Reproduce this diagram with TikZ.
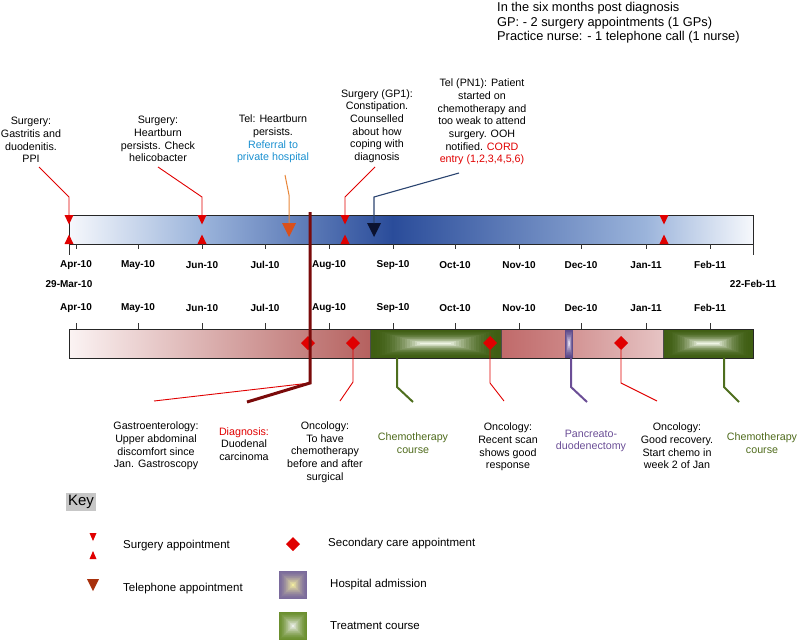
\documentclass[tikz,border=0pt]{standalone}
\usepackage{fontspec}
\setmainfont{Liberation Sans}
\definecolor{sred}{HTML}{E00000}
\definecolor{dred}{HTML}{7A0A0A}
\definecolor{oline}{HTML}{E8873A}
\definecolor{ofill}{HTML}{D9501A}
\definecolor{nline}{HTML}{2B4470}
\definecolor{nfill}{HTML}{0B1230}
\definecolor{olive}{HTML}{4F6B1C}
\definecolor{gline}{HTML}{4E6E1E}
\definecolor{purp}{HTML}{6B4E96}
\definecolor{bluetxt}{HTML}{1A90D0}
\definecolor{bl0}{HTML}{F6F8FC}
\definecolor{bl1}{HTML}{9BB4DB}
\definecolor{bl2}{HTML}{2A4C9A}
\definecolor{rd0}{HTML}{FBF3F3}
\definecolor{rd1}{HTML}{B5615F}
\definecolor{rd2}{HTML}{C06A6A}
\definecolor{rd3}{HTML}{CC8585}
\definecolor{rd4}{HTML}{D39494}
\definecolor{rd5}{HTML}{E6C4C4}
\definecolor{gedge}{HTML}{3F5E13}
\definecolor{gcen}{HTML}{EEF4E4}
\definecolor{pedge}{HTML}{5B4788}
\definecolor{pcen}{HTML}{E8E2F4}
\definecolor{kpedge}{HTML}{7A6A9C}
\definecolor{kpcen}{HTML}{F2ECA0}
\definecolor{kgedge}{HTML}{6B8F2E}
\definecolor{kgcen}{HTML}{ECEFEA}
\definecolor{tbrown}{HTML}{A8300C}
\newcommand{\pyrbox}[8]{%
  \foreach \k in {0,...,20}{%
    \pgfmathsetmacro{\dx}{\k/21*(#3-#1)/2*#7}%
    \pgfmathsetmacro{\dy}{\k/21*(#4-#2)/2}%
    \pgfmathsetmacro{\pc}{100*(\k/20)^#8}%
    \fill[#6!\pc!#5] (#1+\dx,#2+\dy) rectangle (#3-\dx,#4-\dy);
  }}
\newcommand{\sdiam}[3]{%
  \fill[sred] (#1-7,#2) -- (#1,#2-7) -- (#1+7,#2) -- (#1,#2+7) -- cycle;
  \coordinate (#3) at (#1,#2+7);}
\newcommand{\surgpair}[2]{%
  \fill[sred] (#1-4.5,215) -- (#1+4.5,215) -- (#1,224.5) -- cycle;
  \fill[sred] (#1-4.5,244) -- (#1+4.5,244) -- (#1,234.5) -- cycle;
  \coordinate (#2) at (#1,215);}
\begin{document}
\begin{tikzpicture}[x=1pt,y=-1pt,
  lbl/.style={align=center,font=\fontsize{10.7}{12.7}\selectfont,inner sep=0pt},
  mon/.style={font=\bfseries\fontsize{10}{12}\selectfont,inner sep=0pt},
  keytxt/.style={anchor=west,font=\fontsize{11.5}{13}\selectfont,inner sep=0pt},
  callred/.style={draw=sred,line width=0.9pt},
  tick/.style={draw=black!80,line width=0.8pt}]
\useasboundingbox (0,0) rectangle (800,643);

% ---------- top-right summary ----------
\node[anchor=north west,align=left,inner sep=0pt,font=\fontsize{12.8}{14.5}\selectfont] (summary) at (497,2.5)
  {In the six months post diagnosis\\GP: - 2 surgery appointments (1 GPs)\\Practice nurse: - 1 telephone call (1 nurse)};

% ---------- top labels ----------
\node[lbl] (t1) at (31,140) {Surgery:\\Gastritis and\\duodenitis.\\PPI};
\node[lbl] (t2) at (158,139) {Surgery:\\Heartburn\\persists. Check\\helicobacter};
\node[lbl] (t3) at (273,139) {Tel: Heartburn\\persists.\\\textcolor{bluetxt}{Referral to}\\\textcolor{bluetxt}{private hospital}};
\node[lbl] (t4) at (377,126) {Surgery (GP1):\\Constipation.\\Counselled\\about how\\coping with\\diagnosis};
\node[lbl] (t5) at (482,122) {Tel (PN1): Patient\\started on\\chemotherapy and\\too weak to attend\\surgery. OOH\\notified. \textcolor{sred}{CORD}\\\textcolor{sred}{entry (1,2,3,4,5,6)}};

% ---------- top bar ----------
\shade[left color=bl0,right color=bl1] (69,215) rectangle (202,244);
\shade[left color=bl1,right color=bl2] (201.5,215) rectangle (393,244);
\shade[left color=bl2,right color=bl1] (392.5,215) rectangle (646,244);
\shade[left color=bl1,right color=bl0] (645.5,215) rectangle (753,244);
\draw[black!85,line width=0.8pt] (69,215) rectangle (753,244);
\draw[tick] (69,244) -- (69,255);
\draw[tick] (753,244) -- (753,255);
\foreach \x/\m in {76/Apr-10,138/May-10,202/Jun-10,265/Jul-10,329/Aug-10,393/Sep-10,455/Oct-10,519/Nov-10,581/Dec-10,646/Jan-11,710/Feb-11}{
  \draw[tick] (\x,244) -- (\x,249);
  \node[mon] at (\x,265) {\m};
  \draw[tick] (\x,323) -- (\x,329);
  \node[mon] at (\x,308) {\m};
}
\node[mon] (startdate) at (69,284) {29-Mar-10};
\node[mon] (enddate) at (753,284) {22-Feb-11};

% surgery markers
\surgpair{69}{s1}
\surgpair{202}{s2}
\surgpair{345}{s3}
\surgpair{664}{s4}

% telephone markers
\fill[ofill] (282,223) -- (296,223) -- (289,237) -- cycle;
\coordinate (tel1) at (289,223);
\fill[nfill] (367,223) -- (381,223) -- (374,237) -- cycle;
\coordinate (tel2) at (374,223);

% top connectors
\coordinate (t1e) at (39,167);
\coordinate (t2e) at (158,167);
\coordinate (t3e) at (285,175);
\coordinate (t4e) at (375,167);
\coordinate (t5e) at (459,173);
\draw[callred] (t1e) -- (69,197) -- (s1);
\draw[callred] (t2e) -- (202,197) -- (s2);
\draw[callred] (t4e) -- (345,197) -- (s3);
\draw[draw=oline,line width=1pt] (t3e) -- (289,195) -- (tel1);
\draw[draw=nline,line width=1.1pt] (t5e) -- (374,197) -- (tel2);

% ---------- bottom bar ----------
\shade[left color=rd0,right color=rd1] (69,329) rectangle (370.5,358);
\shade[left color=rd2,right color=rd3] (500.5,329) rectangle (565.5,358);
\shade[left color=rd4,right color=rd5] (572.5,329) rectangle (663.5,358);
\pyrbox{370}{329}{501}{358}{gedge}{gcen}{0.8}{2.2}
\pyrbox{663}{329}{753}{358}{gedge}{gcen}{0.8}{2.2}
\pyrbox{565}{329}{573}{358}{pedge}{pcen}{1}{1.5}
\draw[black!70,line width=0.6pt] (370,329) rectangle (501,358);
\draw[black!70,line width=0.6pt] (663,329) rectangle (753,358);
\draw[black!85,line width=0.8pt] (69,329) rectangle (753,358);

% secondary care diamonds
\sdiam{308}{343}{d1}
\sdiam{353}{343}{d2}
\sdiam{490}{343}{d3}
\sdiam{621}{343}{d4}
\coordinate (c1) at (397,358);
\coordinate (h1) at (571,358);
\coordinate (c2) at (724,358);

% bottom labels
\node[lbl] (b1) at (156,446) {Gastroenterology:\\Upper abdominal\\discomfort since\\Jan. Gastroscopy};
\node[lbl] (b2) at (244,444) {\textcolor{sred}{Diagnosis:}\\Duodenal\\carcinoma};
\node[lbl] (b3) at (325,452) {Oncology:\\To have\\chemotherapy\\before and after\\surgical};
\node[lbl,text=olive] (b4) at (413,443) {Chemotherapy\\course};
\node[lbl] (b5) at (508,447) {Oncology:\\Recent scan\\shows good\\response};
\node[lbl,text=purp] (b6) at (591,441) {Pancreato-\\duodenectomy};
\node[lbl] (b7) at (677,446) {Oncology:\\Good recovery.\\Start chemo in\\week 2 of Jan};
\node[lbl,text=olive] (b8) at (762,443) {Chemotherapy\\course};

% bottom connectors
\coordinate (b1e) at (154,401);
\coordinate (b3e) at (340,401);
\coordinate (b4e) at (413,402);
\coordinate (b5e) at (504,401);
\coordinate (b6e) at (587,402);
\coordinate (b7e) at (657,401);
\coordinate (b8e) at (739,402);
\draw[callred] (d2) -- (353,382) -- (b3e);
\draw[callred] (d3) -- (490,383) -- (b5e);
\draw[callred] (d4) -- (621,383) -- (b7e);
\draw[draw=gline,line width=2pt] (c1) -- (397,387) -- (b4e);
\draw[draw=gline,line width=2pt] (c2) -- (724,387) -- (b8e);
\draw[draw=purp,line width=2pt] (h1) -- (571,387) -- (b6e);

% diagnosis line
\coordinate (dtop) at (310,212);
\coordinate (delb) at (310,383);
\coordinate (b2e) at (247,402);
\draw[callred] (delb) -- (b1e);
\draw[draw=dred,line width=3pt] (dtop) -- (delb) -- (b2e);

% ---------- key ----------
\node[fill=black!22,inner sep=2pt,font=\fontsize{15}{17}\selectfont] (key) at (81,502) {Key};
\fill[sred] (89.5,533) -- (96.5,533) -- (93,541) -- cycle;
\fill[sred] (89.5,559) -- (96.5,559) -- (93,551) -- cycle;
\node[keytxt] (k1) at (123,546) {Surgery appointment};
\fill[tbrown] (87,579) -- (99,579) -- (93,591) -- cycle;
\node[keytxt] (k2) at (123,589) {Telephone appointment};
\fill[sred] (286,544) -- (293,537) -- (300,544) -- (293,551) -- cycle;
\node[keytxt] (k3) at (328,544) {Secondary care appointment};
\pyrbox{279}{571}{307}{599}{kpedge}{kpcen}{1}{1.5}
\node[keytxt] (k4) at (330,585) {Hospital admission};
\pyrbox{279}{612}{307}{640}{kgedge}{kgcen}{1}{1.5}
\node[keytxt] (k5) at (330,626) {Treatment course};
\end{tikzpicture}
\end{document}
